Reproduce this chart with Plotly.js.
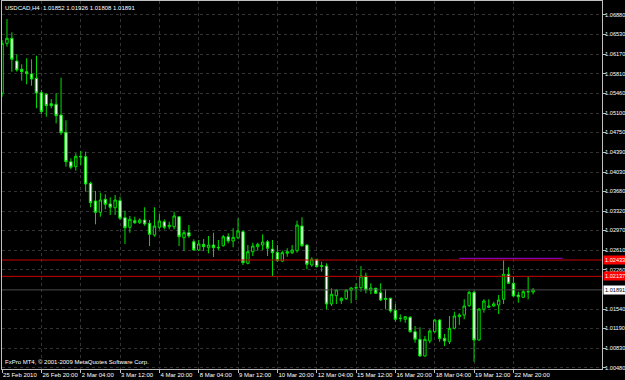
<!DOCTYPE html>
<html>
<head>
<meta charset="utf-8">
<script src="https://cdn.plot.ly/plotly-3.0.1.min.js"></script>
<style>html,body{margin:0;padding:0;background:#000;}#chart{width:625px;height:380px;}</style>
</head>
<body>
<div id="chart"></div>
<script>
// USDCAD H4 bars, 25 Feb 2010 12:00 .. 23 Mar 2010 12:00 (bar index 0..108)
var open = [1.05459,1.06366,1.06457,1.06045,1.05894,1.05851,1.05809,1.05731,1.05470,1.05441,
1.05270,1.05259,1.05065,1.04751,1.04217,1.04127,1.04315,1.04308,1.03825,1.03504,
1.03299,1.03535,1.03450,1.03382,1.03510,1.03201,1.03027,1.03147,1.03110,1.03159,
1.03099,1.02887,1.03027,1.03128,1.03038,1.03038,1.03219,1.02838,1.02929,1.02765,
1.02615,1.02718,1.02656,1.02705,1.02664,1.02693,1.02856,1.02778,1.02838,1.02947,
1.02373,1.02584,1.02675,1.02705,1.02765,1.02633,1.02573,1.02415,1.02555,1.02566,
1.02602,1.03050,1.02705,1.02342,1.02446,1.02330,1.02324,1.01635,1.01785,1.01695,
1.01731,1.01883,1.01934,1.01930,1.02143,1.01883,1.01920,1.01840,1.01738,1.01738,
1.01520,1.01377,1.01357,1.01393,1.01132,1.00994,1.00691,1.00963,1.01132,1.01344,
1.01012,1.00950,1.01194,1.01404,1.01435,1.01604,1.01847,1.00981,1.01539,1.01575,
1.01598,1.01616,1.01720,1.02174,1.02010,1.01798,1.01756,1.01860,1.01852];
var high = [1.06426,1.06807,1.06566,1.06167,1.05985,1.06094,1.06076,1.06141,1.05519,1.05459,
1.05355,1.05459,1.05742,1.04969,1.04279,1.04370,1.04412,1.04399,1.03854,1.03686,
1.03655,1.03626,1.03571,1.03613,1.03582,1.03328,1.03232,1.03219,1.03190,1.03390,
1.03159,1.03390,1.03268,1.03172,1.03128,1.03310,1.03232,1.02965,1.03068,1.02809,
1.02796,1.02814,1.02869,1.02929,1.02796,1.02887,1.02918,1.03009,1.03190,1.02965,
1.02705,1.02747,1.02747,1.02900,1.02796,1.02796,1.02705,1.02602,1.02646,1.02705,
1.03147,1.03208,1.02718,1.02482,1.02451,1.02402,1.02374,1.01920,1.01901,1.01756,
1.01907,1.01938,1.02010,1.02324,1.02203,1.02010,1.01930,1.02010,1.01901,1.01749,
1.01635,1.01448,1.01417,1.01417,1.01235,1.01212,1.01054,1.01175,1.01357,1.01357,
1.01090,1.01417,1.01495,1.01466,1.01720,1.01876,1.01876,1.01557,1.01720,1.01720,
1.01676,1.01798,1.02433,1.02301,1.02130,1.01858,1.01889,1.02130,1.01926];
var low = [1.05397,1.06305,1.05851,1.05851,1.05688,1.05622,1.05597,1.05187,1.05078,1.05034,
1.05187,1.04914,1.04702,1.04127,1.04079,1.04054,1.04157,1.03673,1.03390,1.03081,
1.03219,1.03353,1.03250,1.03250,1.03159,1.02724,1.02929,1.03087,1.03087,1.03056,
1.02687,1.02856,1.02990,1.02990,1.02990,1.02990,1.02687,1.02597,1.02838,1.02602,
1.02597,1.02597,1.02555,1.02488,1.02615,1.02675,1.02736,1.02664,1.02809,1.02342,
1.02355,1.02506,1.02602,1.02615,1.02506,1.02143,1.02402,1.02402,1.02493,1.02542,
1.02566,1.02675,1.02264,1.02312,1.02301,1.02221,1.01538,1.01598,1.01635,1.01635,
1.01707,1.01647,1.01707,1.01858,1.01829,1.01811,1.01816,1.01689,1.01538,1.01477,
1.01313,1.01313,1.01295,1.01114,1.00932,1.00678,1.00678,1.00921,1.01114,1.00950,
1.00872,1.00909,1.01175,1.01253,1.01357,1.01586,1.00587,1.00968,1.01477,1.01571,
1.01586,1.01453,1.01635,1.01998,1.01767,1.01658,1.01756,1.01720,1.01808];
var close = [1.06366,1.06457,1.06076,1.05882,1.05851,1.05815,1.05718,1.05464,1.05125,1.05234,
1.05234,1.05052,1.04744,1.04217,1.04116,1.04315,1.04303,1.03813,1.03473,1.03299,
1.03522,1.03444,1.03390,1.03522,1.03190,1.03019,1.03172,1.03110,1.03159,1.03087,
1.02900,1.03050,1.03141,1.03027,1.03063,1.03232,1.02856,1.02929,1.02869,1.02615,
1.02724,1.02675,1.02705,1.02656,1.02656,1.02856,1.02778,1.02845,1.02960,1.02384,
1.02584,1.02687,1.02718,1.02760,1.02646,1.02566,1.02421,1.02566,1.02584,1.02615,
1.03068,1.02693,1.02355,1.02446,1.02312,1.02319,1.01635,1.01811,1.01889,1.01738,
1.01889,1.01925,1.01927,1.02143,1.01889,1.01925,1.01829,1.01707,1.01720,1.01508,
1.01357,1.01371,1.01404,1.01132,1.00994,1.00691,1.00994,1.01145,1.01344,1.01005,
1.00963,1.01194,1.01417,1.01435,1.01598,1.01847,1.00981,1.01544,1.01689,1.01598,
1.01635,1.01707,1.02174,1.02010,1.01780,1.01767,1.01858,1.01856,1.01891];

var xTickIdx  = [0,8,16,24,32,40,48,56,64,72,80,88,96,104];
var xTickText = ['25 Feb 2010','26 Feb 20:00','2 Mar 04:00','3 Mar 12:00','4 Mar 20:00','8 Mar 04:00',
                 '9 Mar 12:00','10 Mar 20:00','12 Mar 04:00','15 Mar 12:00','16 Mar 20:00','18 Mar 04:00',
                 '19 Mar 12:00','22 Mar 20:00'];
var yTickVals = [1.06880,1.06530,1.06170,1.05810,1.05460,1.05100,1.04750,1.04390,1.04030,1.03680,
                 1.03320,1.02970,1.02610,1.02260,1.01540,1.01190,1.00830,1.00480];
var yTickText = yTickVals.map(function(v){return v.toFixed(5);});

var redLevels = [1.02433, 1.02137];
var purpleLevel = 1.02464, purpleFrom = 93, purpleTo = 114;
var bidPrice = 1.01891;
var titleText = 'USDCAD,H4  1.01852 1.01926 1.01808 1.01891';
var footText = 'FxPro MT4, \u00a9 2001-2009 MetaQuotes Software Corp.';

var idx = close.map(function(_, i){return i;});
var FONT = 'Liberation Sans, Arial, sans-serif';

var traces = [];
traces.push({type:'scatter', mode:'lines', x:[-5,130], y:[bidPrice,bidPrice],
  line:{color:'#4a4a4a', width:1}, hoverinfo:'skip'});
redLevels.forEach(function(v){
  traces.push({type:'scatter', mode:'lines', x:[-5,130], y:[v,v],
    line:{color:'#c80000', width:1}, hoverinfo:'skip'});
});
traces.push({type:'scatter', mode:'lines', x:[purpleFrom,purpleTo], y:[purpleLevel,purpleLevel],
  line:{color:'#a000e0', width:1}, hoverinfo:'skip'});
traces.push({type:'candlestick', x:idx, open:open, high:high, low:low, close:close,
  increasing:{line:{color:'#00e000', width:1}, fillcolor:'#000000'},
  decreasing:{line:{color:'#00e000', width:1}, fillcolor:'#ffffff'},
  whiskerwidth:0, hoverinfo:'skip'});

var annotations = [
  {text:titleText, xref:'paper', yref:'paper', x:0, y:1, xanchor:'left', yanchor:'top',
   xshift:1, yshift:-2, showarrow:false, font:{family:FONT, size:6, color:'#ffffff'}},
  {text:footText, xref:'paper', yref:'paper', x:0, y:0, xanchor:'left', yanchor:'bottom',
   xshift:1, yshift:2, showarrow:false, font:{family:FONT, size:6, color:'#ffffff'}}
];
redLevels.forEach(function(v){
  annotations.push({text:v.toFixed(5), xref:'paper', yref:'y', x:1, y:v, xanchor:'left', yanchor:'middle',
    xshift:1, showarrow:false, bgcolor:'#ff0000', borderpad:1, font:{family:FONT, size:5.6, color:'#ffffff'}});
});
annotations.push({text:bidPrice.toFixed(5), xref:'paper', yref:'y', x:1, y:bidPrice, xanchor:'left', yanchor:'middle',
    xshift:1, showarrow:false, bgcolor:'#ffffff', borderpad:1, font:{family:FONT, size:5.6, color:'#000000'}});

var layout = {
  width:625, height:380,
  margin:{l:2, r:23, t:1, b:11, pad:0},
  paper_bgcolor:'#000000', plot_bgcolor:'#000000',
  showlegend:false, boxgap:0.3,
  xaxis:{range:[-0.01,122.02], tickmode:'array', tickvals:xTickIdx, ticktext:xTickText,
    ticks:'outside', ticklen:3, tickcolor:'#c0c0c0', ticklabelposition:'outside right', tickangle:0,
    ticklabelstandoff:0,
    showline:true, linecolor:'#c0c0c0', linewidth:1, mirror:true,
    showgrid:true, gridcolor:'#333333', griddash:'dot', gridwidth:1, zeroline:false,
    rangeslider:{visible:false}, fixedrange:true,
    tickfont:{family:FONT, size:6, color:'#ffffff'}},
  yaxis:{side:'right', range:[1.00455,1.07134], tickmode:'array', tickvals:yTickVals, ticktext:yTickText,
    ticks:'outside', ticklen:3, tickcolor:'#c0c0c0', tickangle:0, ticklabelstandoff:-2,
    showline:true, linecolor:'#c0c0c0', linewidth:1, mirror:true,
    showgrid:true, gridcolor:'#333333', griddash:'dot', gridwidth:1, zeroline:false, fixedrange:true,
    tickfont:{family:FONT, size:5.6, color:'#ffffff'}},
  annotations:annotations
};

Plotly.newPlot('chart', traces, layout, {displayModeBar:false, staticPlot:true});
</script>
</body>
</html>
